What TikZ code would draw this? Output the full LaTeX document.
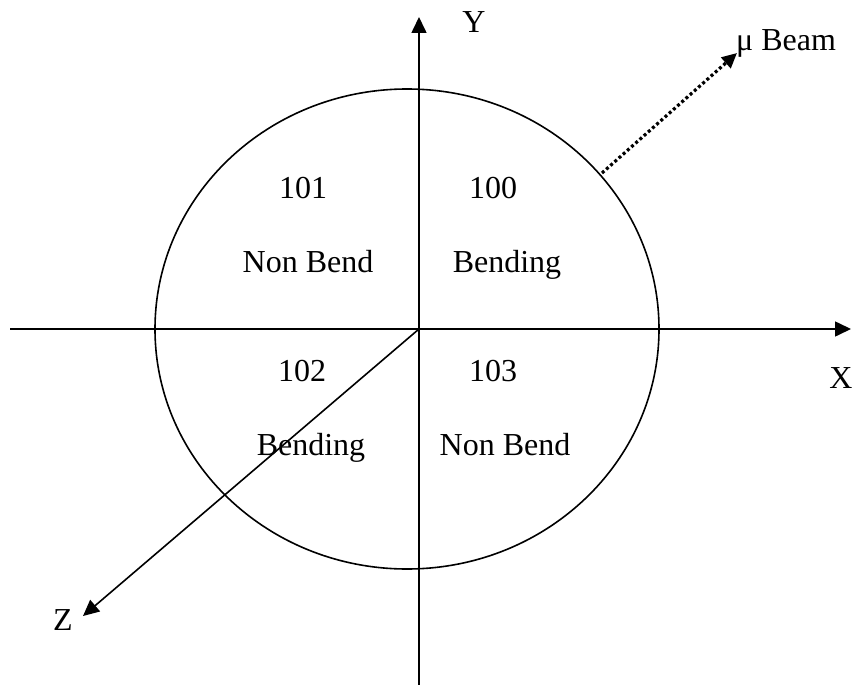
\documentclass[tikz,border=0pt]{standalone}
\usepackage{fontspec}
\setmainfont{Liberation Serif}
\usetikzlibrary{arrows.meta}
\begin{document}
\begin{tikzpicture}[x=1pt,y=-1pt,
  axis/.style={line width=1.6pt,-{Triangle[length=16pt,width=15pt]}},
  lbl/.style={inner sep=0pt,anchor=base,font=\fontsize{32}{38}\selectfont},
  beam/.style={line width=3.2pt,dash pattern=on 3pt off 2.6pt,-{Triangle[length=15pt,width=14pt]}}]
\useasboundingbox (0,0) rectangle (857,685);
\coordinate (O) at (419,329);
\coordinate (ytop) at (419,17);
\coordinate (ybot) at (419,685);
\coordinate (xl) at (10,329);
\coordinate (xr) at (851,329);
\coordinate (ztip) at (83,616);
\coordinate (C) at (407,329);
\coordinate (bs) at (602,173);
\coordinate (be) at (737,53);
\draw[line width=1.6pt] (C) ellipse [x radius=252, y radius=240];
\draw[axis] (ybot) -- (ytop);
\draw[axis] (xl) -- (xr);
\draw[axis] (O) -- (ztip);
\draw[beam] (bs) -- (be);
\node[lbl] (ylab) at (474,33) {Y};
\node[lbl] (xlab) at (841,388) {X};
\node[lbl] (zlab) at (63,630) {Z};
\node[lbl,anchor=base west] (blab) at (736,51) {μ Beam};
\node[lbl] (n101) at (303,198) {101};
\node[lbl] (n100) at (493,198) {100};
\node[lbl] (nb1) at (308,272) {Non Bend};
\node[lbl] (b1) at (507,272) {Bending};
\node[lbl] (n102) at (302,381) {102};
\node[lbl] (n103) at (493,381) {103};
\node[lbl] (b2) at (311,455) {Bending};
\node[lbl] (nb2) at (505,455) {Non Bend};
\end{tikzpicture}
\end{document}
